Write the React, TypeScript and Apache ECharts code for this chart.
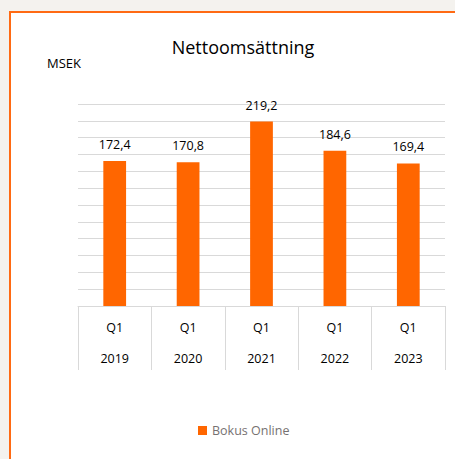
import React, { useEffect, useRef } from "react";
import * as echarts from "echarts";

const quarters = ["Q1", "Q1", "Q1", "Q1", "Q1"];
const years = ["2019", "2020", "2021", "2022", "2023"];
const values = [172.4, 170.8, 219.2, 184.6, 169.4];
const seriesName = "Bokus Online";
const titleText = "Nettoomsättning";
const unitText = "MSEK";

const FONT = "'Open Sans', sans-serif";

export default function App() {
  const ref = useRef<HTMLDivElement>(null);
  useEffect(() => {
    if (!ref.current) return;
    const chart = echarts.init(ref.current, undefined, { renderer: "svg" });
    const cats = quarters.map((q, i) => q + "\n" + years[i]);
    chart.setOption({
      animation: false,
      backgroundColor: "#f4f2ee",
      graphic: [
        {
          type: "rect",
          z: -10,
          silent: true,
          shape: { x: 10, y: 12, width: 520, height: 520 },
          style: { fill: "#ffffff", stroke: "#ff6a13", lineWidth: 2 },
        },
        {
          type: "text",
          left: 47,
          top: 56,
          style: { text: unitText, fontFamily: FONT, fontSize: 13, fill: "#000000" },
        },
      ],
      title: {
        text: titleText,
        left: 238,
        textAlign: "center",
        top: 33,
        textStyle: { fontFamily: FONT, fontSize: 18, fontWeight: "normal", color: "#000000" },
      },
      legend: {
        bottom: 17,
        left: 193,
        itemWidth: 9,
        itemHeight: 9,
        itemGap: 3,
        icon: "rect",
        textStyle: { fontFamily: FONT, fontSize: 12.5, color: "#767171" },
        data: [seriesName],
      },
      grid: { left: 78, right: 10, top: 104, height: 202, containLabel: false },
      xAxis: {
        type: "category",
        data: cats,
        axisLine: { lineStyle: { color: "#d9d9d9", width: 1 } },
        axisTick: { show: true, length: 64, alignWithLabel: false, lineStyle: { color: "#d9d9d9" } },
        axisLabel: {
          fontFamily: FONT,
          fontSize: 12.5,
          color: "#000000",
          lineHeight: 31,
          margin: 6,
        },
      },
      yAxis: {
        type: "value",
        min: 0,
        max: 240,
        interval: 20,
        axisLabel: { show: false },
        axisLine: { show: false },
        axisTick: { show: false },
        splitLine: { lineStyle: { color: "#d9d9d9", width: 1 } },
      },
      series: [
        {
          name: seriesName,
          type: "bar",
          data: values,
          barWidth: "31%",
          itemStyle: { color: "#ff6600" },
          label: {
            show: true,
            position: "top",
            distance: 10,
            fontFamily: FONT,
            fontSize: 12.5,
            color: "#000000",
            formatter: (p: any) => String(p.value).replace(".", ","),
          },
        },
      ],
    });
    return () => chart.dispose();
  }, []);
  return (
    <div style={{ position: "fixed", left: 0, top: 0, width: 455, height: 459 }}>
      <div ref={ref} style={{ width: 455, height: 459 }} />
    </div>
  );
}
